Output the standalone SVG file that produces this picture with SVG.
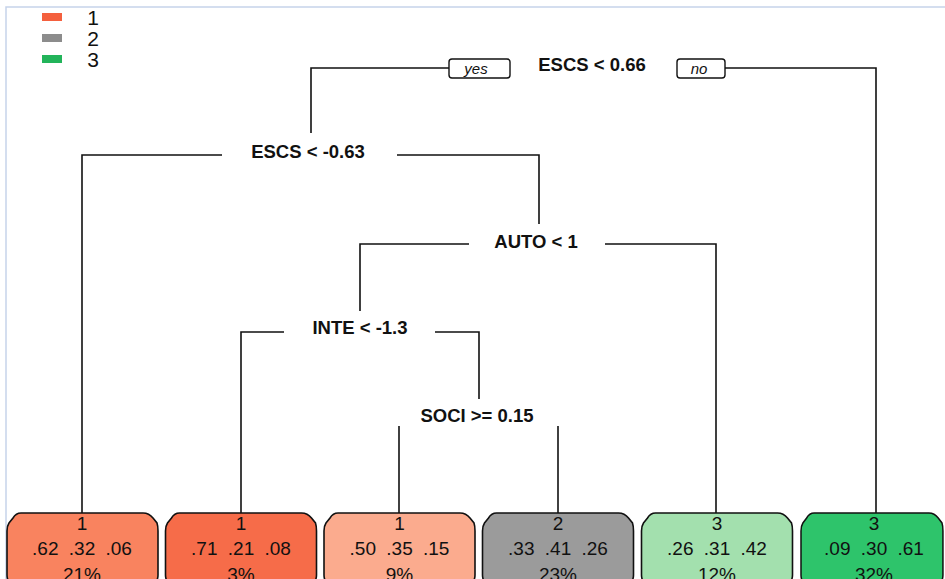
<svg xmlns="http://www.w3.org/2000/svg" width="945" height="579" viewBox="0 0 945 579">
<style>
.split{font-family:"Liberation Sans",Arial,sans-serif;font-weight:bold;font-size:18.5px;fill:#111;text-anchor:middle}
.leaf text{font-family:"Liberation Sans",Arial,sans-serif;font-size:19px;fill:#111;text-anchor:middle}
.leaf use{stroke:#111;stroke-width:1.6}
.conn line,.conn polyline{stroke:#111;stroke-width:1.6;fill:none}
.tag{fill:#fff;stroke:#111;stroke-width:1.4}
.tagt{font-family:"Liberation Sans",Arial,sans-serif;font-style:italic;font-size:15px;fill:#111;text-anchor:middle}
.leg{font-family:"Liberation Sans",Arial,sans-serif;font-size:21px;fill:#111;text-anchor:middle}
</style>
<defs>
<path id="box" d="M14,0 H136 Q142,0 146,5 L150,10 Q151,13 151,18 V62 Q151,67 148,70 L144,74 Q140,77 134,77 H16 Q10,77 6,73 L3,70 Q0,67 0,62 V18 Q0,13 2,10 L6,5 Q9,0 14,0 Z"/>
</defs>
<rect width="945" height="579" fill="#fff"/>
<polyline points="6,579 6,7 945,7" fill="none" stroke="#c6d3ea" stroke-width="1.5"/>
<g id="legend">
<rect x="42" y="13" width="20" height="8" fill="#f4603e"/>
<rect x="42" y="34" width="20" height="8" fill="#8c8c8c"/>
<rect x="42" y="55" width="20" height="8" fill="#22b45a"/>
<text class="leg" x="93" y="25">1</text>
<text class="leg" x="93" y="46">2</text>
<text class="leg" x="93" y="67">3</text>
</g>
<g id="connectors" class="conn">
<polyline points="449,68 311,68 311,133"/>
<polyline points="725,68 876,68 876,513"/>
<polyline points="222,155 82,155 82,513"/>
<polyline points="397,155 539,155 539,224"/>
<polyline points="469,244 360,244 360,311"/>
<polyline points="605,244 716,244 716,513"/>
<polyline points="284,332 241,332 241,513"/>
<polyline points="435,332 479,332 479,399"/>
<line x1="399" y1="426" x2="399" y2="513"/>
<line x1="558" y1="426" x2="558" y2="513"/>
</g>
<g id="root">
<text class="split" x="592" y="71">ESCS &lt; 0.66</text>
<rect class="tag" x="449" y="59" width="61" height="19" rx="3"/>
<text class="tagt" x="476" y="74">yes</text>
<rect class="tag" x="677" y="59" width="48" height="19" rx="3"/>
<text class="tagt" x="699" y="74">no</text>
</g>
<g id="split-escs2"><text class="split" x="308" y="158">ESCS &lt; -0.63</text></g>
<g id="split-auto"><text class="split" x="536" y="248">AUTO &lt; 1</text></g>
<g id="split-inte"><text class="split" x="360" y="334">INTE &lt; -1.3</text></g>
<g id="split-soci"><text class="split" x="477" y="422">SOCI &gt;= 0.15</text></g>
<g id="leaf1" class="leaf">
<use href="#box" transform="translate(7,513)" fill="#f9835f"/>
<text x="82" y="530">1</text>
<text x="82" y="555" word-spacing="5">.62 .32 .06</text>
<text x="82" y="581">21%</text>
</g>
<g id="leaf2" class="leaf">
<use href="#box" transform="translate(165.5,513)" fill="#f66c49"/>
<text x="241" y="530">1</text>
<text x="241" y="555" word-spacing="5">.71 .21 .08</text>
<text x="241" y="581">3%</text>
</g>
<g id="leaf3" class="leaf">
<use href="#box" transform="translate(324,513)" fill="#fbab8e"/>
<text x="399.5" y="530">1</text>
<text x="399.5" y="555" word-spacing="5">.50 .35 .15</text>
<text x="399.5" y="581">9%</text>
</g>
<g id="leaf4" class="leaf">
<use href="#box" transform="translate(482.5,513)" fill="#9b9b9b"/>
<text x="558" y="530">2</text>
<text x="558" y="555" word-spacing="5">.33 .41 .26</text>
<text x="558" y="581">23%</text>
</g>
<g id="leaf5" class="leaf">
<use href="#box" transform="translate(641.5,513)" fill="#a3e0ae"/>
<text x="717" y="530">3</text>
<text x="717" y="555" word-spacing="5">.26 .31 .42</text>
<text x="717" y="581">12%</text>
</g>
<g id="leaf6" class="leaf">
<use href="#box" transform="translate(801,513) scale(0.94,1)" fill="#2ec46b"/>
<text x="874" y="530">3</text>
<text x="874" y="555" word-spacing="5">.09 .30 .61</text>
<text x="874" y="581">32%</text>
</g>
</svg>
